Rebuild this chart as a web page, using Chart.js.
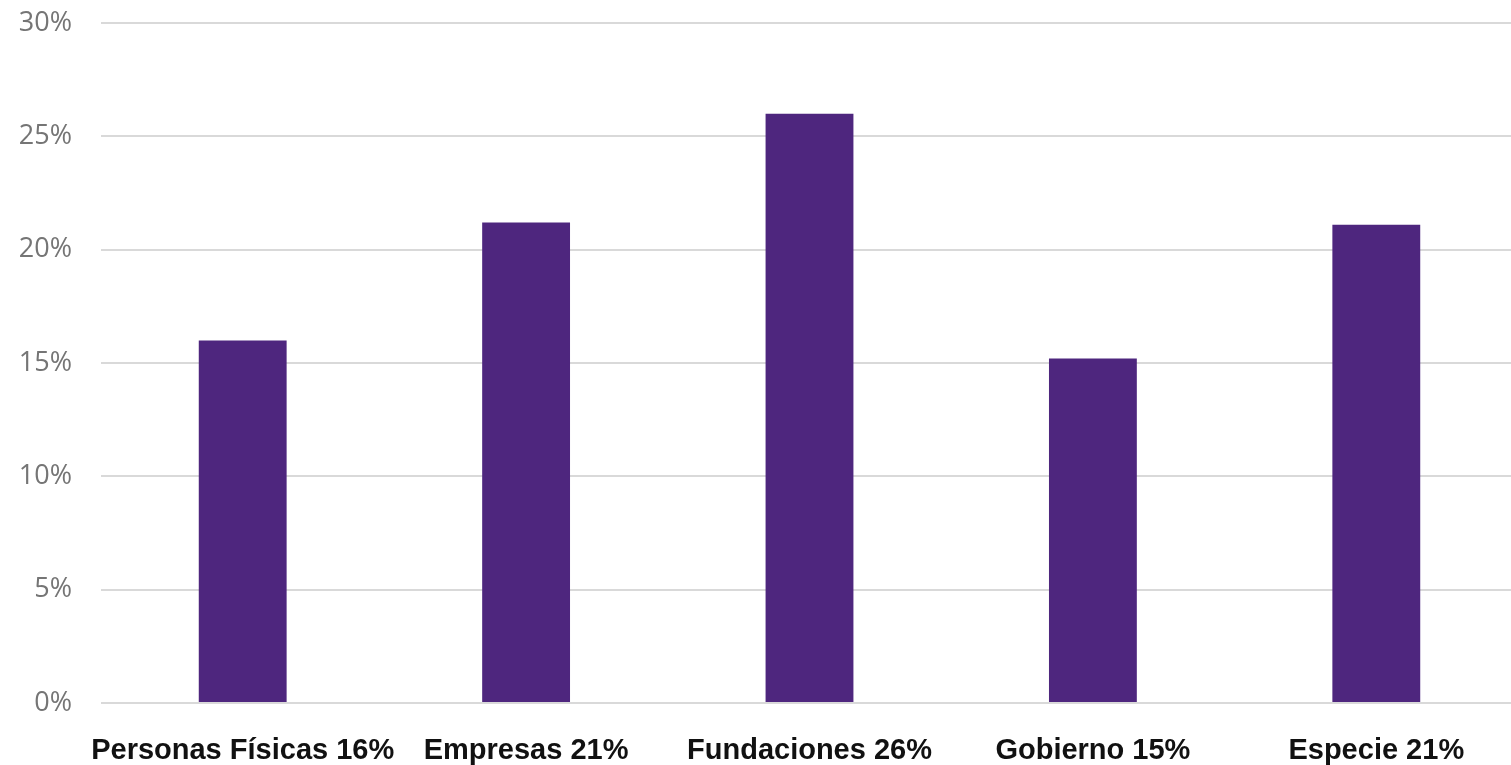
<!DOCTYPE html>
<html>
<head>
<meta charset="utf-8">
<script src="https://cdn.jsdelivr.net/npm/chart.js@4.4.1/dist/chart.umd.min.js"></script>
<style>
  html, body { margin: 0; padding: 0; background: #fff; overflow: hidden; }
  #wrap { width: 1518px; height: 787px; margin-top: -22px; }
</style>
</head>
<body>
<div id="wrap"><canvas id="donationBarChart"></canvas></div>
<script>
// categorias y valores (%)
var categories = ['Personas Físicas 16%', 'Empresas 21%', 'Fundaciones 26%', 'Gobierno 15%', 'Especie 21%'];
var shares = [16, 21.2, 26, 15.2, 21.1];
var yTicks = [0, 5, 10, 15, 20, 25, 30];

var ctx = document.getElementById('donationBarChart');
var donationBarChart = new Chart(ctx, {
  type: 'bar',
  data: {
    labels: categories,
    datasets: [{
      data: shares,
      backgroundColor: '#4e267e',
      borderWidth: 0,
      categoryPercentage: 1,
      barPercentage: 0.31
    }]
  },
  options: {
    responsive: true,
    maintainAspectRatio: false,
    animation: false,
    layout: { padding: { top: 4, left: 0, right: 0, bottom: 0 } },
    plugins: {
      legend: { display: false },
      tooltip: { enabled: false }
    },
    scales: {
      x: {
        grid: { display: false, drawTicks: false },
        border: { display: false },
        ticks: {
          color: '#111',
          padding: 31,
          maxRotation: 0,
          autoSkip: false,
          font: { family: 'Liberation Sans', size: 29, weight: 'bold' }
        },
        afterFit: function (scale) { scale.height = 62; }
      },
      y: {
        min: 0,
        max: 30,
        afterBuildTicks: function (scale) {
          scale.ticks = yTicks.map(function (v) { return { value: v }; });
        },
        grid: { color: '#d9d9d9', lineWidth: 2, drawTicks: false },
        border: { display: false },
        ticks: {
          color: '#757575',
          padding: 29,
          font: { family: 'Open Sans', size: 27 },
          callback: function (v) { return v + '%'; }
        },
        afterFit: function (scale) { scale.width = 101; }
      }
    }
  }
});
</script>
</body>
</html>
